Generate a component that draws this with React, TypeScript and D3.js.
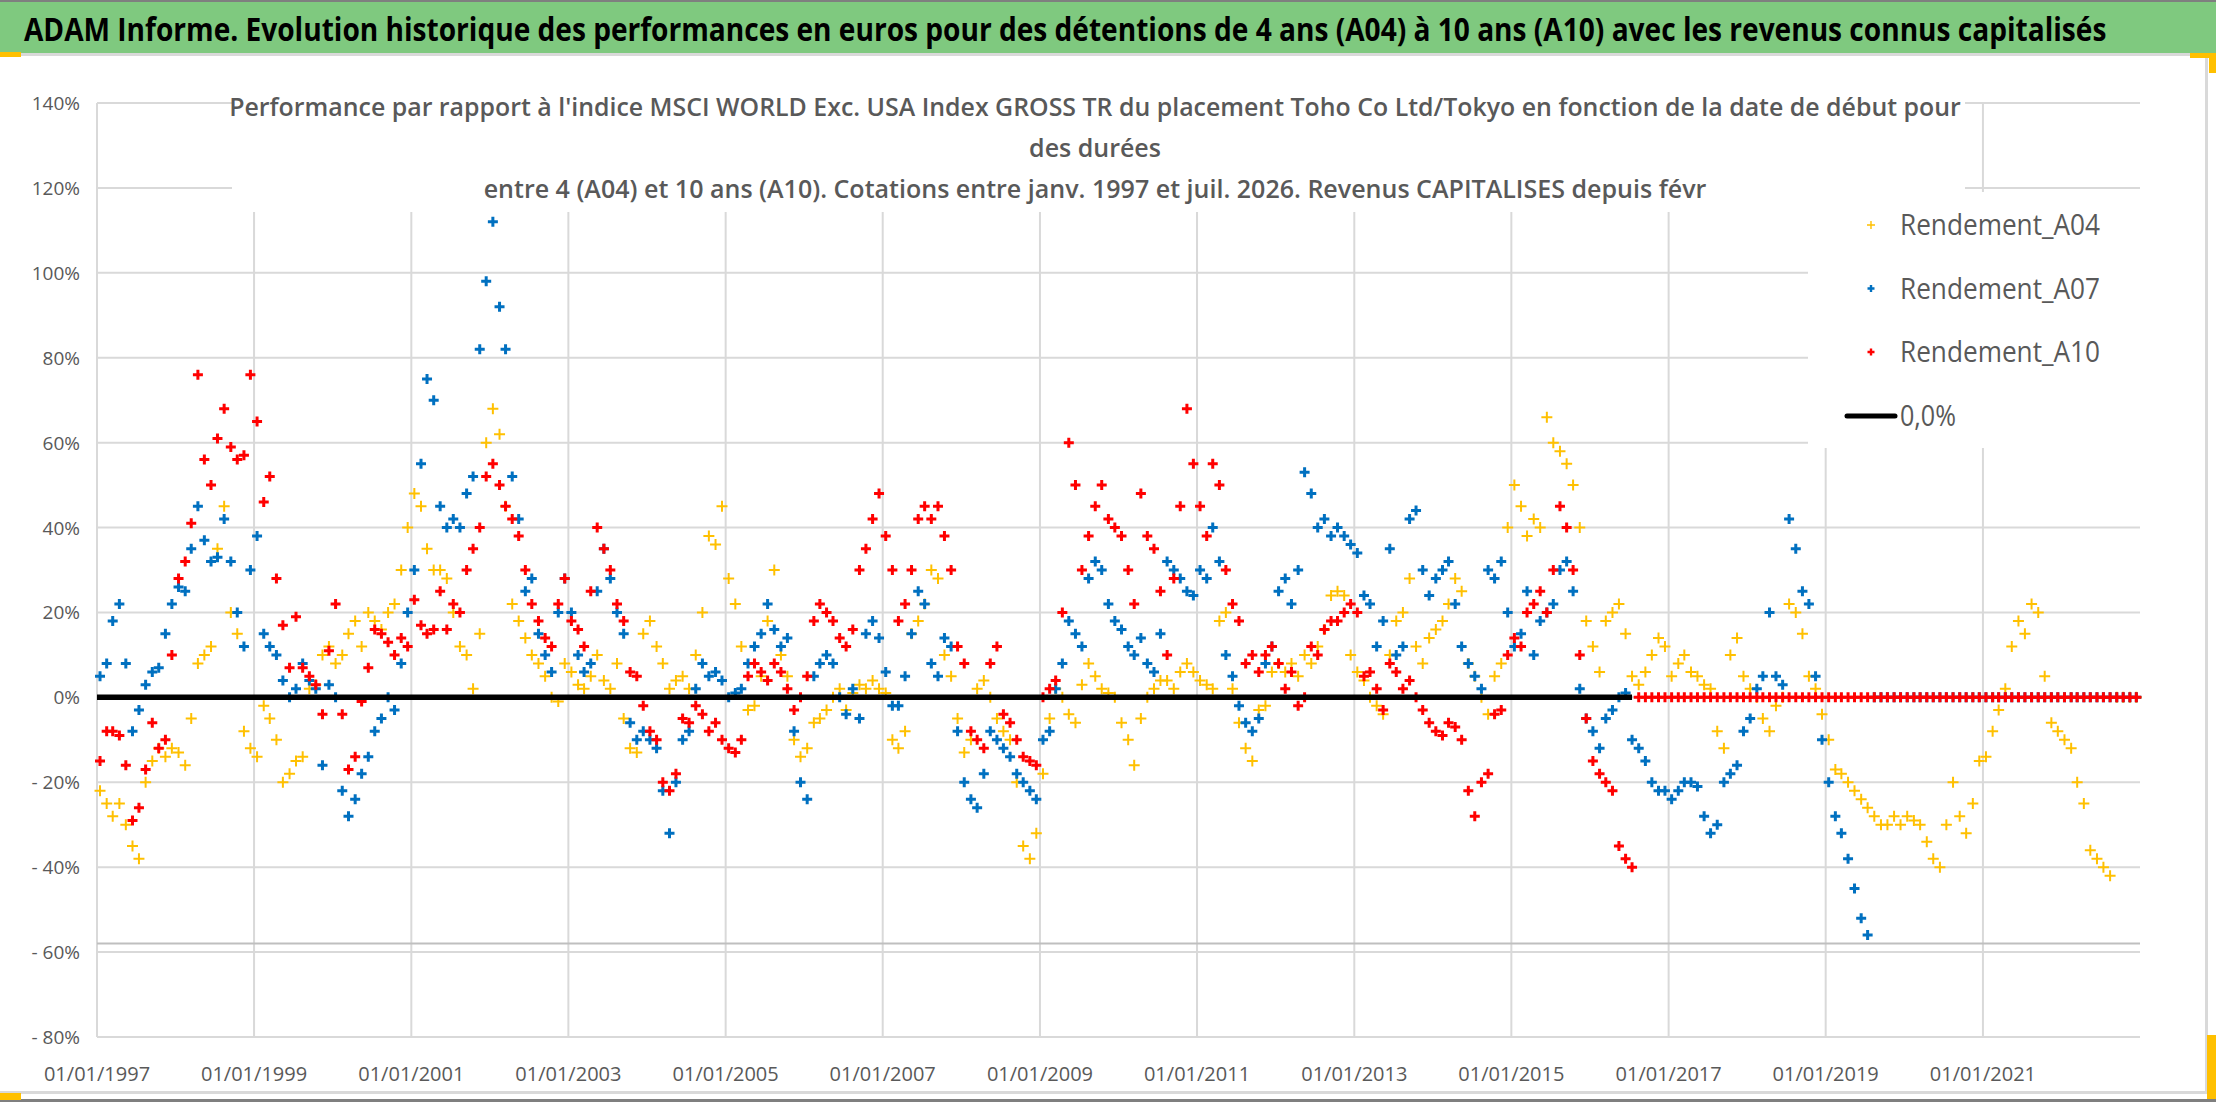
import { useEffect, useRef } from "react"
import * as d3 from "d3"

const WIDTH = 2216
const HEIGHT = 1102
const FONT = "'Open Sans', 'Noto Sans', sans-serif"

const TITLE =
  "ADAM Informe. Evolution historique des performances en euros pour des détentions de 4 ans (A04) à 10 ans (A10) avec les revenus connus capitalisés"
const SUBTITLE = [
  "Performance par rapport à l'indice MSCI WORLD Exc. USA Index GROSS TR  du placement Toho Co Ltd/Tokyo en fonction de la date de début pour",
  "des durées",
  "entre 4 (A04) et 10 ans (A10). Cotations entre janv. 1997 et juil. 2026. Revenus CAPITALISES depuis févr",
]

// monthly readings, first point mid january 1997
const FIRST_MONTH = new Date(1997, 0, 15)
const X_START = new Date(1997, 0, 1)
const X_END = new Date(2023, 0, 1)
const X_TICK_YEARS = [1997, 1999, 2001, 2003, 2005, 2007, 2009, 2011, 2013, 2015, 2017, 2019, 2021]
const Y_TICKS = [-80, -60, -40, -20, 0, 20, 40, 60, 80, 100, 120, 140]
const AXIS_CROSS = -58
const ZERO_LINE_END = new Date(2016, 6, 15)

// Rendement_A04 (%)
const A04 = [
  -22, -25, -28, -25, -30, -35, -38, -20, -15, -12, -14, -12,
  -13, -16, -5, 8, 10, 12, 35, 45, 20, 15, -8, -12,
  -14, -2, -5, -10, -20, -18, -15, -14, 2, 3, 10, 12,
  8, 10, 15, 18, 12, 20, 18, 16, 20, 22, 30, 40,
  48, 45, 35, 30, 30, 28, 20, 12, 10, 2, 15, 60,
  68, 62, 45, 22, 18, 14, 10, 8, 5, 0, -1, 8,
  6, 3, 2, 5, 10, 4, 2, 8, -5, -12, -13, 15,
  18, 12, 8, 2, 4, 5, 2, 10, 20, 38, 36, 45,
  28, 22, 12, -3, -2, 5, 18, 30, 10, 5, -10, -14,
  -12, -6, -5, -3, 0, 2, -3, 1, 3, 2, 4, 2,
  1, -10, -12, -8, 15, 18, 22, 30, 28, 10, 5, -5,
  -13, -10, 2, 4, 0, -5, -8, -10, -20, -35, -38, -32,
  -18, -5, 2, 0, -4, -6, 3, 8, 5, 2, 1, 0,
  -6, -10, -16, -5, 0, 2, 4, 4, 2, 6, 8, 6,
  4, 3, 2, 18, 20, 2, -6, -12, -15, -3, -2, 6,
  8, 6, 8, 5, 10, 8, 12, 16, 24, 25, 24, 10,
  6, 4, 0, -2, -4, 10, 18, 20, 28, 12, 8, 14,
  16, 18, 22, 28, 25, 8, 5, 0, -4, 5, 8, 40,
  50, 45, 38, 42, 40, 66, 60, 58, 55, 50, 40, 18,
  12, 6, 18, 20, 22, 15, 5, 3, 6, 10, 14, 12,
  5, 8, 10, 6, 5, 3, 2, -8, -12, 10, 14, 5,
  2, 0, -5, -8, -2, 0, 22, 20, 15, 5, 2, -4,
  -10, -17, -18, -20, -22, -24, -26, -28, -30, -30, -28, -30,
  -28, -29, -30, -34, -38, -40, -30, -20, -28, -32, -25, -15,
  -14, -8, -3, 2, 12, 18, 15, 22, 20, 5, -6, -8,
  -10, -12, -20, -25, -36, -38, -40, -42, 0, 0, 0, 0,
]

// Rendement_A07 (%)
const A07 = [
  5, 8, 18, 22, 8, -8, -3, 3, 6, 7, 15, 22,
  26, 25, 35, 45, 37, 32, 33, 42, 32, 20, 12, 30,
  38, 15, 12, 10, 4, 0, 2, 8, 4, 2, -16, 3,
  0, -22, -28, -24, -18, -14, -8, -5, 0, -3, 8, 20,
  30, 55, 75, 70, 45, 40, 42, 40, 48, 52, 82, 98,
  112, 92, 82, 52, 42, 25, 28, 15, 10, 6, 20, 28,
  20, 10, 6, 8, 25, 35, 28, 20, 15, -6, -10, -8,
  -10, -12, -22, -32, -20, -10, -8, 2, 8, 5, 6, 4,
  0, 1, 2, 8, 12, 15, 22, 16, 12, 14, -8, -20,
  -24, 5, 8, 10, 8, 0, -4, 2, -5, 15, 18, 14,
  6, -2, -2, 5, 15, 25, 22, 8, 5, 14, 12, -8,
  -20, -24, -26, -18, -8, -10, -12, -14, -18, -20, -22, -24,
  -10, -8, 2, 8, 18, 15, 12, 28, 32, 30, 22, 18,
  16, 12, 10, 14, 8, 6, 15, 32, 30, 28, 25, 24,
  30, 28, 40, 32, 10, 5, -2, -6, -8, -5, 8, 12,
  25, 28, 22, 30, 53, 48, 40, 42, 38, 40, 38, 36,
  34, 24, 22, 12, 18, 35, 10, 12, 42, 44, 30, 24,
  28, 30, 32, 22, 12, 8, 5, 2, 30, 28, 32, 20,
  12, 15, 25, 10, 18, 20, 22, 30, 32, 25, 2, -5,
  -8, -12, -5, -3, 0, 1, -10, -12, -15, -20, -22, -22,
  -24, -22, -20, -20, -21, -28, -32, -30, -20, -18, -16, -8,
  -5, 2, 5, 20, 5, 3, 42, 35, 25, 22, 5, -10,
  -20, -28, -32, -38, -45, -52, -56, 0, 0, 0, 0, 0,
  0, 0, 0, 0, 0, 0, 0, 0, 0, 0, 0, 0,
  0, 0, 0, 0, 0, 0, 0, 0, 0, 0, 0, 0,
  0, 0, 0, 0, 0, 0, 0, 0, 0, 0, 0, 0,
]

// Rendement_A10 (%)
const A10 = [
  -15, -8, -8, -9, -16, -29, -26, -17, -6, -12, -10, 10,
  28, 32, 41, 76, 56, 50, 61, 68, 59, 56, 57, 76,
  65, 46, 52, 28, 17, 7, 19, 7, 5, 3, -4, 11,
  22, -4, -17, -14, -1, 7, 16, 15, 13, 10, 14, 12,
  23, 17, 15, 16, 25, 16, 22, 20, 30, 35, 40, 52,
  55, 50, 45, 42, 38, 30, 22, 18, 14, 12, 22, 28,
  18, 16, 12, 25, 40, 35, 30, 22, 18, 6, 5, -2,
  -8, -10, -20, -22, -18, -5, -6, -2, -4, -8, -6, -10,
  -12, -13, -10, 5, 8, 6, 4, 8, 6, 2, -3, 0,
  5, 18, 22, 20, 18, 14, 12, 16, 30, 35, 42, 48,
  38, 30, 18, 22, 30, 42, 45, 42, 45, 38, 30, 12,
  8, -8, -10, -12, 8, 12, -4, -6, -10, -14, -15, -16,
  0, 2, 4, 20, 60, 50, 30, 38, 45, 50, 42, 40,
  38, 30, 22, 48, 38, 35, 25, 10, 28, 45, 68, 55,
  45, 38, 55, 50, 30, 22, 18, 8, 10, 6, 10, 12,
  8, 2, 6, -2, 0, 12, 10, 16, 18, 18, 20, 22,
  20, 5, 6, 2, -3, 8, 6, 2, 4, 0, -3, -6,
  -8, -9, -6, -7, -10, -22, -28, -20, -18, -4, -3, 10,
  14, 12, 20, 22, 25, 20, 30, 45, 40, 30, 10, -5,
  -15, -18, -20, -22, -35, -38, -40, 0, 0, 0, 0, 0,
  0, 0, 0, 0, 0, 0, 0, 0, 0, 0, 0, 0,
  0, 0, 0, 0, 0, 0, 0, 0, 0, 0, 0, 0,
  0, 0, 0, 0, 0, 0, 0, 0, 0, 0, 0, 0,
  0, 0, 0, 0, 0, 0, 0, 0, 0, 0, 0, 0,
  0, 0, 0, 0, 0, 0, 0, 0, 0, 0, 0, 0,
  0, 0, 0, 0, 0, 0, 0, 0, 0, 0, 0, 0,
]

const SERIES = [
  { name: "Rendement_A04", values: A04, color: "#FFC000", width: 2, size: 5.5 },
  { name: "Rendement_A07", values: A07, color: "#0070C0", width: 3, size: 5 },
  { name: "Rendement_A10", values: A10, color: "#FF0000", width: 3, size: 5 },
]

const plusPath = (s: number) => `M${-s},0H${s}M0,${-s}V${s}`

// squeeze a text horizontally so that it spans `width` pixels
function fitWidth(text: d3.Selection<SVGTextElement, unknown, null, undefined>, x: number, y: number, width: number) {
  const natural = (text.node() as SVGTextElement).getComputedTextLength()
  const sx = natural > 0 ? width / natural : 1
  text.attr("transform", `translate(${x},${y}) scale(${sx},1)`)
}

export default function App() {
  const svgRef = useRef<SVGSVGElement>(null)

  useEffect(() => {
    if (!svgRef.current) return
    document.body.style.margin = "0"

    const svg = d3.select(svgRef.current)
    svg.selectAll("*").remove()
    svg.attr("width", WIDTH).attr("height", HEIGHT).style("font-family", FONT)

    const margin = { top: 103, right: 76, bottom: 65, left: 97 }
    const x = d3.scaleTime().domain([X_START, X_END]).range([margin.left, WIDTH - margin.right])
    const y = d3.scaleLinear().domain([-80, 140]).range([HEIGHT - margin.bottom, margin.top])

    // background and frame
    svg.append("rect").attr("width", WIDTH).attr("height", HEIGHT).attr("fill", "white")
    svg.append("rect").attr("x", 0).attr("y", 2).attr("width", WIDTH).attr("height", 51).attr("fill", "#7fc97f")
    svg.append("rect").attr("x", 0).attr("y", 0).attr("width", WIDTH).attr("height", 2).attr("fill", "#7f7f7f")
    svg.append("rect").attr("x", 0).attr("y", 53).attr("width", WIDTH).attr("height", 3).attr("fill", "#d9d9d9")
    svg.append("rect").attr("x", 2205).attr("y", 56).attr("width", 3).attr("height", 1036).attr("fill", "#d9d9d9")
    svg.append("rect").attr("x", 0).attr("y", 1091).attr("width", 2208).attr("height", 3).attr("fill", "#d9d9d9")
    svg.append("rect").attr("x", 0).attr("y", 1099).attr("width", WIDTH).attr("height", 3).attr("fill", "#7f7f7f")
    const handles = [
      [0, 52, 21, 5], [2190, 53, 26, 5], [2209, 53, 7, 20], [0, 1093, 21, 7], [2207, 1035, 9, 64],
    ]
    svg.selectAll(".handle").data(handles).enter().append("rect")
      .attr("x", (d) => d[0]).attr("y", (d) => d[1]).attr("width", (d) => d[2]).attr("height", (d) => d[3])
      .attr("fill", "#ffc000")

    const title = svg.append("text")
      .style("font-size", "33px").style("font-weight", "bold").style("fill", "#000")
      .text(TITLE)
    fitWidth(title, 24, 41, 2084)

    // gridlines
    const grid = svg.append("g")
    grid.selectAll(".hgrid").data(Y_TICKS).enter().append("line")
      .attr("x1", margin.left).attr("x2", WIDTH - margin.right)
      .attr("y1", (d) => y(d)).attr("y2", (d) => y(d))
      .attr("stroke", "#d9d9d9").attr("stroke-width", 2)
    grid.selectAll(".vgrid").data(X_TICK_YEARS).enter().append("line")
      .attr("x1", (d) => x(new Date(d, 0, 1))).attr("x2", (d) => x(new Date(d, 0, 1)))
      .attr("y1", margin.top).attr("y2", y(-80))
      .attr("stroke", "#d9d9d9").attr("stroke-width", 2)
    grid.append("line")
      .attr("x1", margin.left).attr("x2", WIDTH - margin.right)
      .attr("y1", y(AXIS_CROSS)).attr("y2", y(AXIS_CROSS))
      .attr("stroke", "#bfbfbf").attr("stroke-width", 2)

    // white boxes of title and legend over the grid
    svg.append("rect").attr("x", 232).attr("y", 60).attr("width", 1733).attr("height", 152).attr("fill", "white")
    svg.append("rect").attr("x", 1808).attr("y", 192).attr("width", 2140 - 1808).attr("height", 256).attr("fill", "white")

    // y axis labels
    svg.selectAll(".ylab").data(Y_TICKS).enter().append("text")
      .attr("x", 80).attr("y", (d) => y(d) + 7)
      .attr("text-anchor", "end")
      .style("font-size", "19px").style("fill", "#595959")
      .text((d) => (d < 0 ? `- ${-d}%` : `${d}%`))

    // x axis labels
    svg.selectAll(".xlab").data(X_TICK_YEARS).enter().append("text")
      .attr("x", (d) => x(new Date(d, 0, 1))).attr("y", 1081)
      .attr("text-anchor", "middle")
      .style("font-size", "20px").style("fill", "#595959")
      .text((d) => `01/01/${d}`)

    // markers
    SERIES.forEach((s) => {
      svg.append("g").selectAll("path").data(s.values).enter().append("path")
        .attr("transform", (d, i) => `translate(${x(d3.timeMonth.offset(FIRST_MONTH, i))},${y(d)})`)
        .attr("d", plusPath(s.size))
        .attr("stroke", s.color).attr("stroke-width", s.width).attr("fill", "none")
    })

    // 0,0% line
    const zeroLine = d3.line<Date>().x((d) => x(d)).y(() => y(0))
    svg.append("path")
      .datum([X_START, ZERO_LINE_END])
      .attr("d", zeroLine)
      .attr("stroke", "#000").attr("stroke-width", 5.5).attr("fill", "none")

    // subtitle
    const subLen = [1733, 0, 1223]
    SUBTITLE.forEach((line, i) => {
      const t = svg.append("text")
        .attr("text-anchor", "middle")
        .style("font-size", "25px").style("font-weight", 600).style("fill", "#595959")
        .text(line)
      if (subLen[i]) fitWidth(t, 1095, 116 + i * 41, subLen[i])
      else t.attr("x", 1095).attr("y", 116 + i * 41)
    })

    // legend
    const legend = svg.append("g").attr("transform", "translate(1871, 225)")
    SERIES.forEach((s, i) => {
      const row = legend.append("g").attr("transform", `translate(0, ${i * 63.5})`)
      row.append("path")
        .attr("d", plusPath(s.size - 1.5))
        .attr("stroke", s.color).attr("stroke-width", s.width - 0.6)
      const t = row.append("text")
        .style("font-size", "29px").style("fill", "#595959")
        .text(s.name)
      fitWidth(t, 29, 10, 200)
    })
    const zeroItem = legend.append("g").attr("transform", "translate(0, 191)")
    zeroItem.append("line").attr("x1", -24).attr("x2", 24).attr("stroke", "#000").attr("stroke-width", 5)
      .attr("stroke-linecap", "round")
    const zt = zeroItem.append("text")
      .style("font-size", "29px").style("fill", "#595959")
      .text("0,0%")
    fitWidth(zt, 29, 10, 56)
  }, [])

  return (
    <div style={{ position: "absolute", left: 0, top: 0 }}>
      <svg ref={svgRef}></svg>
    </div>
  )
}
